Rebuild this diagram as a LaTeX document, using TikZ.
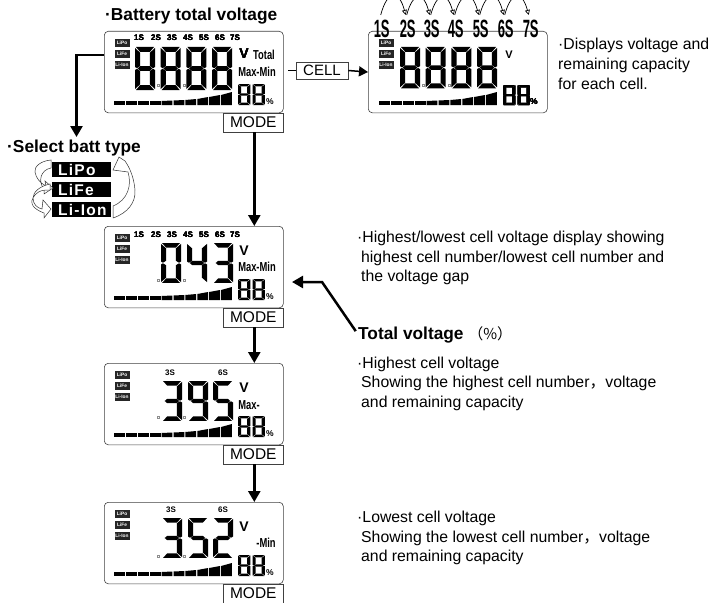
\documentclass[tikz,border=0pt]{standalone}
\usepackage{fontspec}
\usepackage{graphicx}
\setmainfont{Liberation Sans}
\newfontfamily\cjk{Noto Sans CJK SC}
\usetikzlibrary{arrows.meta}

\newcommand{\lcdsega}{\fill (1,0) -- (19,0) -- (14.8,5) -- (5.2,5) -- cycle;}
\newcommand{\lcdsegb}{\fill (20,1) -- (20,20) -- (18,21.2) -- (14.8,19) -- (14.8,5.8) -- cycle;}
\newcommand{\lcdsegc}{\fill (20,42) -- (20,23) -- (18,21.8) -- (14.8,24) -- (14.8,37.2) -- cycle;}
\newcommand{\lcdsegd}{\fill (1,43) -- (19,43) -- (14.8,38) -- (5.2,38) -- cycle;}
\newcommand{\lcdsege}{\fill (0,42) -- (0,23) -- (2,21.8) -- (5.2,24) -- (5.2,37.2) -- cycle;}
\newcommand{\lcdsegf}{\fill (0,1) -- (0,20) -- (2,21.2) -- (5.2,19) -- (5.2,5.8) -- cycle;}
\newcommand{\lcdsegg}{\fill (2.7,21.5) -- (5.2,19.2) -- (14.8,19.2) -- (17.3,21.5) -- (14.8,23.8) -- (5.2,23.8) -- cycle;}

% x, y, xscale, yscale, segments
\newcommand{\lcddigit}[5]{
    \begin{scope}[shift={(#1,#2)}, xscale=#3, yscale=#4]
        \foreach \sg in {#5} {\csname lcdseg\sg\endcsname}
    \end{scope}
}

\newcommand{\narrowtext}[1]{\scalebox{0.72}[1]{#1}}

% name, x, y
\newcommand{\lcdpanel}[3]{
    \node[panel] (panel#1) at (#2,#3) {};
    \node[modebox] (mode#1) at (panel#1.south east) {MODE};
    \begin{scope}[shift={(#2,#3)}]
        \node[typetag] (lipo#1) at (18,12) {LiPo};
        \node[typetag] (life#1) at (18,23) {LiFe};
        \node[typetag] (liion#1) at (18,34) {Li-Ion};
        \foreach \i/\ha/\hb in {0/4/4, 1/4/4, 2/4/4, 3/4/4, 4/4/4.5, 5/4.5/5, 6/5/6, 7/6/8, 8/8/10, 9/10/13}
            \fill (10+\i*11.9,74) -- (10+\i*11.9,74-\ha) -- (20.8+\i*11.9,74-\hb) -- (20.8+\i*11.9,74) -- cycle;
        \draw[black!45, line width=0.4pt] (53.5,53.5) rectangle +(2,2);
        \draw[black!45, line width=0.4pt] (79,53.5) rectangle +(2,2);
        \lcddigit{134}{53}{0.62}{0.49}{a,b,c,d,e,f,g}
        \lcddigit{148.5}{53}{0.62}{0.49}{a,b,c,d,e,f,g}
        \node[lcdtag, font=\bfseries\fontsize{8.5}{9}\selectfont] (pct#1) at (166,71) {\%};
    \end{scope}
}

\begin{document}
\begin{tikzpicture}[x=1pt, y=-1pt,
    panel/.style={draw=black!75, rounded corners=4pt, line width=0.6pt, anchor=north west, inner sep=0pt, minimum width=179pt, minimum height=81.5pt},
    modebox/.style={draw=black!75, line width=0.6pt, anchor=north east, inner sep=0pt, minimum width=60pt, minimum height=18.5pt, font=\fontsize{15.5}{18}\selectfont},
    typetag/.style={fill=black!85, text=white, inner sep=0pt, minimum width=15pt, minimum height=7.5pt, font=\bfseries\fontsize{4.8}{5}\selectfont},
    lcdtag/.style={inner sep=0pt, font=\bfseries\fontsize{8}{9}\selectfont},
    lcdnarrow/.style={inner sep=0pt, font=\bfseries\fontsize{13}{14}\selectfont},
    lcdvolt/.style={inner sep=0pt, font=\bfseries\fontsize{14}{15}\selectfont},
    celltag/.style={inner sep=0pt, font=\bfseries\fontsize{25}{28}\selectfont},
    title/.style={anchor=base west, inner sep=0pt, font=\bfseries\fontsize{17.3}{20}\selectfont},
    note/.style={anchor=base west, inner sep=0pt, font=\fontsize{15.8}{18}\selectfont},
    batttag/.style={fill=black, text=white, anchor=west, inner sep=0pt, inner xsep=6pt, text width=47pt, minimum height=15pt, font=\bfseries\addfontfeature{LetterSpace=8}\fontsize{15.5}{17}\selectfont},
    flow/.style={-{Triangle[length=11pt,width=12pt]}, line width=2.5pt},
    keyflow/.style={-{Triangle[length=9pt,width=10pt]}, line width=1.5pt},
    cellarc/.style={-{Triangle[open,length=5pt,width=5pt]}, line width=0.7pt},
    cycleshape/.style={draw=black!80, fill=white, line width=0.5pt}]
    \useasboundingbox (0,0) rectangle (714,602);
    \clip (0,0) rectangle (714,602);

    \lcdpanel{A}{104}{31}
    \lcdpanel{C}{104}{226}
    \lcdpanel{D}{104}{363}
    \lcdpanel{E}{104}{502}

    \node[panel] (panelB) at (368,31) {};
    \begin{scope}[shift={(368,31)}]
        \node[typetag] (lipoB) at (18,12) {LiPo};
        \node[typetag] (lifeB) at (18,23) {LiFe};
        \node[typetag] (liionB) at (18,34) {Li-Ion};
        \foreach \i/\ha/\hb in {0/4/4, 1/4/4, 2/4/4, 3/4/4, 4/4/4.5, 5/4.5/5, 6/5/6, 7/6/8, 8/8/10, 9/10/13}
            \fill (11+\i*11.9,74) -- (11+\i*11.9,74-\ha) -- (21.8+\i*11.9,74-\hb) -- (21.8+\i*11.9,74) -- cycle;
        \draw[black!45, line width=0.4pt] (54,53.5) rectangle +(2,2);
        \draw[black!45, line width=0.4pt] (80,53.5) rectangle +(2,2);
        \foreach \i in {0,1,2,3}
            \lcddigit{32+\i*25.7}{16}{1}{0.96}{a,b,c,d,e,f,g}
        \lcddigit{135}{54}{0.62}{0.47}{a,b,c,d,e,f,g}
        \lcddigit{149.5}{54}{0.62}{0.47}{a,b,c,d,e,f,g}
        \node[lcdtag, font=\bfseries\fontsize{8.5}{9}\selectfont] (pctB) at (166,71) {\%};
        \node[lcdvolt, font=\bfseries\fontsize{11}{12}\selectfont] (voltB) at (141,24) {V};
    \end{scope}

    \foreach \n/\xx/\lab in {A/381.7/1S, B/407.7/2S, C/431.7/3S, D/455.7/4S, E/480.7/5S, F/505.7/6S, G/530.7/7S}
        \node[celltag] (cell\n) at (\xx,29) {\scalebox{0.52}[1]{\lab}};
    \foreach \a/\b in {A/B, B/C, C/D, D/E, E/F, F/G}
        \draw[cellarc] ([shift={(-1pt,5pt)}]cell\a.north) to[out=75, in=105, looseness=2.7] ([shift={(-2pt,5pt)}]cell\b.north);

    \foreach \i in {0,1,2,3}
        \lcddigit{135+\i*25.7}{47}{1}{1}{a,b,c,d,e,f,g}
    \foreach \i/\xx in {1/139, 2/156, 3/172, 4/188, 5/204, 6/220, 7/235} {
        \node[lcdtag] (segA\i) at (\xx,38) {\i S};
        \node[lcdtag] (segC\i) at (\xx,235) {\i S};
    }
    \node[lcdvolt] (voltA) at (244,54) {V};
    \node[lcdnarrow] (totalA) at (264,55) {\narrowtext{Total}};
    \node[lcdnarrow] (gapA) at (257,72) {\narrowtext{Max-Min}};

    \lcddigit{161}{243}{1}{0.93}{a,b,c,d,e,f}
    \lcddigit{187}{243}{1}{0.93}{b,c,f,g}
    \lcddigit{213}{243}{1}{0.93}{a,b,c,d,g}
    \node[lcdvolt] (voltC) at (244,251) {V};
    \node[lcdnarrow] (gapC) at (257,267) {\narrowtext{Max-Min}};

    \node[lcdtag] (hiD) at (170,373) {3S};
    \node[lcdtag] (loD) at (223,373) {6S};
    \lcddigit{162}{381}{1}{0.93}{a,b,c,d,g}
    \lcddigit{188}{381}{1}{0.93}{a,b,c,d,f,g}
    \lcddigit{213}{381}{1}{0.93}{a,c,d,f,g}
    \node[lcdvolt] (voltD) at (244,388) {V};
    \node[lcdnarrow] (gapD) at (249,405) {\narrowtext{Max-}};

    \node[lcdtag] (hiE) at (171,510) {3S};
    \node[lcdtag] (loE) at (223,510) {6S};
    \lcddigit{162}{518}{1}{0.93}{a,b,c,d,g}
    \lcddigit{188}{518}{1}{0.93}{a,c,d,f,g}
    \lcddigit{213}{518}{1}{0.93}{a,b,d,e,g}
    \node[lcdvolt] (voltE) at (244,527) {V};
    \node[lcdnarrow] (gapE) at (266,543) {\narrowtext{-Min}};

    \node[title] (totalTitle) at (105,21) {·Battery total voltage};
    \node[title] (selectTitle) at (7,152) {·Select batt type};
    \node[title] (totalLabel) at (358,339) {Total voltage \mdseries\cjk\fontsize{15}{18}\selectfont（\%）};

    \node[batttag] (battLipo) at (52,169.5) {\mbox{LiPo}};
    \node[batttag] (battLife) at (52,189.5) {\mbox{LiFe}};
    \node[batttag] (battLiion) at (52,209.5) {\mbox{Li-Ion}};

    \path[cycleshape] (113,218) .. controls (128,213) and (136,202) .. (135,190) .. controls (134,178) and (130,168) .. (125,161) -- (119,157) -- (113,170) -- (128,172) .. controls (132,185) and (128,200) .. (113,206) -- cycle;
    \path[cycleshape] (51,160) .. controls (40,161) and (34,167) .. (35,172) .. controls (36,178) and (40,183) .. (46,186) -- (45,181) -- (53,188) -- (44,194) -- (44,189) .. controls (38,182) and (40,170) .. (51,168) -- cycle;
    \path[cycleshape] (50,184) .. controls (40,186) and (33,192) .. (33,198) .. controls (33,204) and (37,208) .. (42,209) -- (43,200) -- (51,209) -- (44,218) -- (44,213) .. controls (36,210) and (26,204) .. (36,194) .. controls (40,190) and (44,190) .. (50,190) -- cycle;

    \node[draw=black!75, line width=0.6pt, inner sep=0pt, minimum width=52pt, minimum height=17pt, font=\fontsize{15}{18}\selectfont] (cellKey) at (322,70.5) {CELL};
    \coordinate (cellStub) at (288,70.5);
    \draw[line width=1.5pt] (cellStub) -- (cellKey.west);
    \draw[keyflow] (cellKey.east) -- (panelB.west);

    \coordinate (panelAside) at (104,55);
    \coordinate (typeDrop) at (76.5,137);
    \draw[flow] (panelAside) -| (typeDrop);
    \draw[flow] ([xshift=1pt]modeA.south) -- ([xshift=60.5pt]panelC.north);
    \draw[flow] ([xshift=1pt]modeC.south) -- ([xshift=60.5pt]panelD.north);
    \draw[flow] ([xshift=1pt]modeD.south) -- ([xshift=60.5pt]panelE.north);

    \coordinate (totalBend) at (322,282);
    \coordinate (totalTip) at (292,282);
    \draw[flow, shorten <=4pt] (totalLabel.west) -- (totalBend) -- (totalTip);

    \node[note] (cellNote) at (558,50) {·Displays voltage and};
    \node[note] (cellNoteb) at (558,70) {remaining capacity};
    \node[note] (cellNotec) at (558,89) {for each cell.};

    \node[note] (gapNote) at (357,242) {·Highest/lowest cell voltage display showing};
    \node[note] (gapNoteb) at (361,262) {highest cell number/lowest cell number and};
    \node[note] (gapNotec) at (361,281) {the voltage gap};

    \node[note] (highNote) at (357,368) {·Highest cell voltage};
    \node[note] (highNoteb) at (361,387) {Showing the highest cell number{\cjk，}voltage};
    \node[note] (highNotec) at (361,407) {and remaining capacity};

    \node[note] (lowNote) at (357,522) {·Lowest cell voltage};
    \node[note] (lowNoteb) at (361,542) {Showing the lowest cell number{\cjk，}voltage};
    \node[note] (lowNotec) at (361,561) {and remaining capacity};
\end{tikzpicture}
\end{document}
